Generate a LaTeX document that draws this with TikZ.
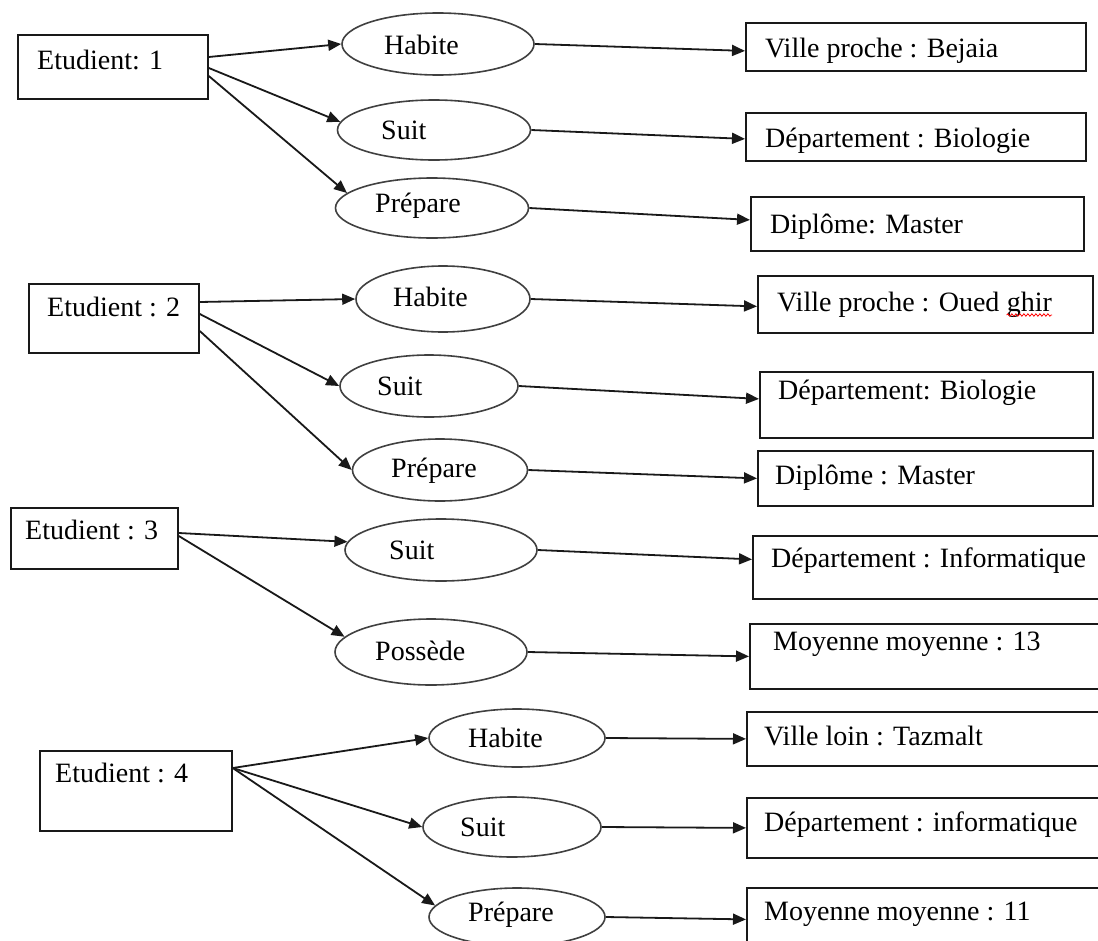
\documentclass[tikz,border=0pt]{standalone}
\usepackage{fontspec}
\setmainfont{Liberation Serif}
\usetikzlibrary{shapes.geometric,arrows.meta,decorations.pathmorphing}
\begin{document}
\begin{tikzpicture}[x=1pt,y=-1pt,
  box/.style={draw=black!90, line width=1.8pt, rectangle, inner sep=0pt, anchor=north west},
  ell/.style={draw=black!75, ellipse, line width=1.6pt, inner sep=0pt},
  lbl/.style={inner sep=0pt, anchor=base west, font=\fontsize{28}{32}\selectfont},
  arr/.style={draw=black!90, line width=1.8pt, -{Triangle[length=13pt,width=11pt]}}]
\clip (0,0) rectangle (1098,940);
\fill[white] (0,0) rectangle (1098,940);

% ---------- Etudient 1 ----------
\node[box, minimum width=190, minimum height=64] (e1) at (17,34) {};
\node[lbl] at (37,69) {Etudient: 1};
\node[ell, minimum width=192, minimum height=62] (h1) at (438,44) {};
\node[lbl] at (384,54) {Habite};
\node[ell, minimum width=193, minimum height=60] (s1) at (434,130) {};
\node[lbl] at (381,139) {Suit};
\node[ell, minimum width=193, minimum height=60] (p1) at (432,208) {};
\node[lbl] at (375,212) {Prépare};
\node[box, minimum width=340, minimum height=48] (v1) at (745,22) {};
\node[lbl] at (765,57) {Ville proche : Bejaia};
\node[box, minimum width=340, minimum height=48] (d1) at (745,112) {};
\node[lbl] at (765,147) {Département : Biologie};
\node[box, minimum width=333, minimum height=54] (m1) at (750,196) {};
\node[lbl] at (770,233) {Diplôme: Master};

\draw[arr] ([yshift=-23pt]e1.north east) -- (h1.west);
\draw[arr] ([yshift=-34pt]e1.north east) -- (s1.175);
\draw[arr] ([yshift=-42pt]e1.north east) -- (p1.170);
\draw[arr] (h1.east) -- ([yshift=-4pt]v1.west);
\draw[arr] (s1.east) -- ([yshift=-2pt]d1.west);
\draw[arr] (p1.east) -- ([yshift=4pt]m1.west);

% ---------- Etudient 2 ----------
\node[box, minimum width=170, minimum height=69] (e2) at (28,283) {};
\node[lbl] at (47,316) {Etudient : 2};
\node[ell, minimum width=174, minimum height=66] (h2) at (443,299) {};
\node[lbl] at (393,306) {Habite};
\node[ell, minimum width=178, minimum height=62] (s2) at (429,386) {};
\node[lbl] at (377,395) {Suit};
\node[ell, minimum width=175, minimum height=62] (p2) at (440,470) {};
\node[lbl] at (391,477) {Prépare};
\node[box, minimum width=335, minimum height=57] (v2) at (757,275) {};
\node[lbl] (v2a) at (777,311) {Ville proche : Oued};
\node[lbl] (v2b) at ([xshift=7pt]v2a.base east) {ghir};
\draw[red, line width=0.8pt, decorate, decoration={snake, amplitude=1.2pt, segment length=4pt}]
  ([yshift=-4pt]v2b.base west) -- ([yshift=-4pt]v2b.base east);
\node[box, minimum width=333, minimum height=66] (d2) at (759,371) {};
\node[lbl] at (778,399) {Département: Biologie};
\node[box, minimum width=335, minimum height=55] (m2) at (757,450) {};
\node[lbl] at (775,484) {Diplôme : Master};

\draw[arr] ([yshift=-19pt]e2.north east) -- (h2.west);
\draw[arr] ([yshift=-31pt]e2.north east) -- (s2.west);
\draw[arr] ([yshift=-48pt]e2.north east) -- (p2.west);
\draw[arr] (h2.east) -- ([yshift=-2pt]v2.west);
\draw[arr] (s2.east) -- ([yshift=6pt]d2.west);
\draw[arr] (p2.east) -- (m2.west);

% ---------- Etudient 3 ----------
\node[box, minimum width=167, minimum height=61] (e3) at (10,507) {};
\node[lbl] at (25,539) {Etudient : 3};
\node[ell, minimum width=192, minimum height=62] (s3) at (441,550) {};
\node[lbl] at (389,559) {Suit};
\node[ell, minimum width=192, minimum height=66] (o3) at (431,652) {};
\node[lbl] at (375,660) {Possède};
\node[box, minimum width=360, minimum height=63] (d3) at (752,535) {};
\node[lbl] at (771,567) {Département : Informatique};
\node[box, minimum width=360, minimum height=65] (m3) at (749,623) {};
\node[lbl] at (773,650) {Moyenne moyenne : 13};

\draw[arr] ([yshift=-26pt]e3.north east) -- (s3.175);
\draw[arr] ([yshift=-29pt]e3.north east) -- (o3.170);
\draw[arr] (s3.east) -- ([yshift=8pt]d3.west);
\draw[arr] (o3.east) -- (m3.west);

% ---------- Etudient 4 ----------
\node[box, minimum width=192, minimum height=80] (e4) at (39,750) {};
\node[lbl] at (55,782) {Etudient : 4};
\node[ell, minimum width=176, minimum height=58] (h4) at (517,738) {};
\node[lbl] at (468,747) {Habite};
\node[ell, minimum width=178, minimum height=60] (s4) at (512,827) {};
\node[lbl] at (460,836) {Suit};
\node[ell, minimum width=176, minimum height=58] (p4) at (517,917) {};
\node[lbl] at (468,921) {Prépare};
\node[box, minimum width=360, minimum height=54] (v4) at (746,711) {};
\node[lbl] at (764,745) {Ville loin : Tazmalt};
\node[box, minimum width=360, minimum height=60] (d4) at (746,797) {};
\node[lbl] at (764,831) {Département : informatique};
\node[box, minimum width=360, minimum height=63] (m4) at (746,887) {};
\node[lbl] at (764,920) {Moyenne moyenne : 11};

\draw[arr] ([yshift=-18pt]e4.north east) -- (h4.west);
\draw[arr] ([yshift=-18pt]e4.north east) -- (s4.west);
\draw[arr] ([yshift=-18pt]e4.north east) -- (p4.172);
\draw[arr] (h4.east) -- (v4.west);
\draw[arr] (s4.east) -- (d4.west);
\draw[arr] (p4.east) -- (m4.west);
\end{tikzpicture}
\end{document}
